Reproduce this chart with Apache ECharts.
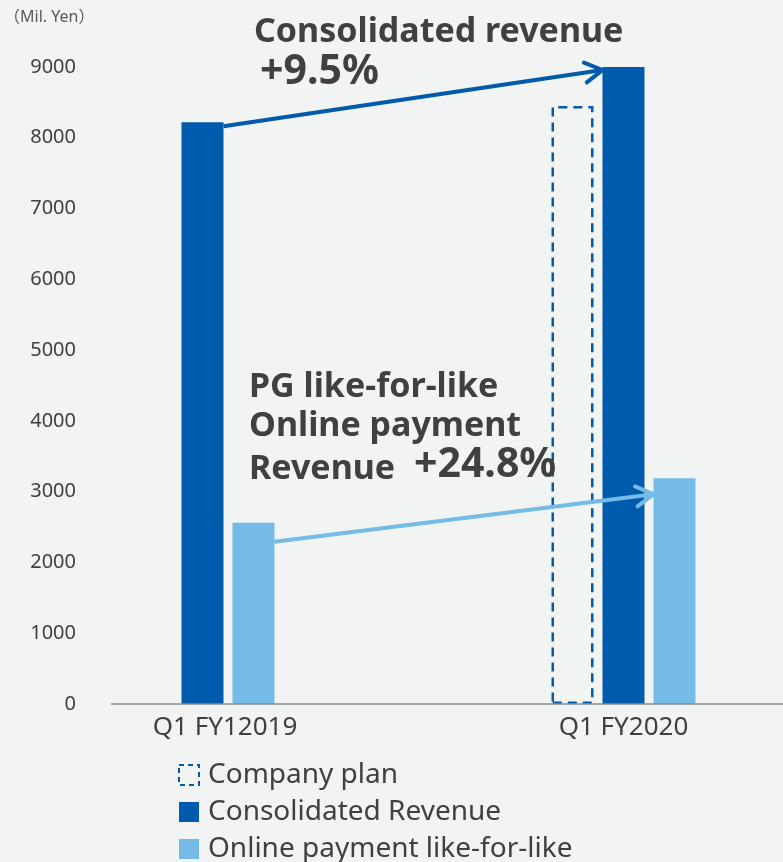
<!DOCTYPE html>
<html>
<head>
<meta charset="utf-8">
<script src="https://cdn.jsdelivr.net/npm/echarts@6/dist/echarts.min.js"></script>
<style>
   html, body { margin: 0; padding: 0; background: #f2f3f3; }
   #chart { width: 783px; height: 862px; }
</style>
</head>
<body>
<div id="chart"></div>
<script>
   // data
   var categories = ['Q1 FY12019', 'Q1 FY2020'];
   var planValues = [null, 8450];
   var revenueValues = [8220, 9000];
   var onlineValues = [2560, 3190];
   var seriesNames = ['Company plan', 'Consolidated Revenue', 'Online payment like-for-like'];
   var yMin = 0, yMax = 9000, yStep = 1000;

   var DARK = '#005bac', LIGHT = '#74bbe8', TEXT = '#404040';
   var FONT = '"Noto Sans", "Noto Sans CJK JP", sans-serif';
   var BAR_W = 42, BAR_GAP = 9;
   var gapPct = (BAR_GAP / BAR_W * 100).toFixed(1) + '%';

   var myChart = echarts.init(document.getElementById('chart'));

   var option = {
      backgroundColor: '#f2f3f3',
      animation: false,
      textStyle: { fontFamily: FONT },
      grid: { left: -8, width: 842, top: 67, bottom: 158, outerBoundsMode: 'none', containLabel: false },
      // 横向 + 窄宽度 => 每项一行
      legend: {
         orient: 'horizontal',
         left: 178,
         top: 761,
         width: 40,
         padding: 0,
         itemWidth: 20,
         itemHeight: 20,
         itemGap: 9,
         icon: 'rect',
         data: [
            { name: seriesNames[0], itemStyle: { color: 'rgba(0,0,0,0)', borderColor: DARK, borderWidth: 2, borderType: [5, 4] } },
            { name: seriesNames[1] },
            { name: seriesNames[2] }
         ],
         textStyle: { fontSize: 28, color: TEXT, fontFamily: FONT, padding: [0, 0, 0, 4] }
      },
      xAxis: {
         type: 'category',
         data: [
            { value: categories[0], textStyle: { padding: [0, 0, 0, 45] } },
            { value: categories[1] }
         ],
         axisLine: { show: false },
         axisTick: { show: false },
         axisLabel: { fontSize: 26, color: TEXT, margin: 11, fontFamily: FONT }
      },
      yAxis: {
         type: 'value',
         min: yMin,
         max: yMax,
         interval: yStep,
         offset: -84,
         axisLine: { show: false },
         axisTick: { show: false },
         splitLine: { show: false },
         axisLabel: {
            fontSize: 20, color: TEXT, margin: 0, fontFamily: FONT,
            formatter: function(v){ return String(v); }
         }
      },
      series: [
         {
            name: seriesNames[0],
            type: 'bar',
            barWidth: BAR_W,
            barGap: gapPct,
            itemStyle: { color: 'rgba(0,0,0,0)', borderColor: DARK, borderWidth: 2.5, borderType: [9, 6] },
            data: planValues
         },
         {
            name: seriesNames[1],
            type: 'bar',
            barWidth: BAR_W,
            barGap: gapPct,
            itemStyle: { color: DARK },
            data: revenueValues
         },
         {
            name: seriesNames[2],
            type: 'bar',
            barWidth: BAR_W,
            barGap: gapPct,
            itemStyle: { color: LIGHT },
            data: onlineValues
         }
      ]
   };
   myChart.setOption(option);

   // 箭头 + 注释
   function px(catIdx, value){
      return myChart.convertToPixel({ xAxisIndex: 0, yAxisIndex: 0 }, [catIdx, value]);
   }
   function arrow(from, to, color){
      var dx = from[0] - to[0], dy = from[1] - to[1];
      var ang = Math.atan2(dy, dx), len = 20, spread = Math.PI / 6;
      var a1 = [to[0] + len * Math.cos(ang + spread), to[1] + len * Math.sin(ang + spread)];
      var a2 = [to[0] + len * Math.cos(ang - spread), to[1] + len * Math.sin(ang - spread)];
      return [
         { type: 'polyline', z: 10, shape: { points: [from, to] }, style: { stroke: color, lineWidth: 4, fill: null } },
         { type: 'polyline', z: 10, shape: { points: [a1, to, a2] }, style: { stroke: color, lineWidth: 4, fill: null, lineCap: 'round', lineJoin: 'miter' } }
      ];
   }
   function label(text, x, y, size, bold){
      return {
         type: 'text', z: 11, x: x, y: y,
         style: { text: text, fill: TEXT, fontSize: size, fontWeight: bold ? 'bold' : 'normal', fontFamily: FONT, verticalAlign: 'middle' }
      };
   }

   var half = BAR_W / 2, step = BAR_W + BAR_GAP;
   var d0 = px(0, revenueValues[0]), d1 = px(1, revenueValues[1]);
   var l0 = px(0, onlineValues[0]), l1 = px(1, onlineValues[1]);
   var zero = px(0, 0);

   var graphics = []
      .concat(arrow([d0[0] + half, d0[1] + 4], [d1[0] - half, d1[1] + 3], DARK))
      .concat(arrow([l0[0] + step + half, l0[1] + 19], [l1[0] + step - half, l1[1] + 16], LIGHT));
   graphics.push({ type: 'line', z: 5, shape: { x1: 111, y1: zero[1], x2: 783, y2: zero[1] }, style: { stroke: '#8a8a8a', lineWidth: 1.5 } });
   graphics.push({
      type: 'text', x: 4, y: 17,
      style: { text: '（Mil. Yen）', fill: '#595959', fontSize: 16, fontFamily: FONT, verticalAlign: 'middle' }
   });
   graphics.push(label('Consolidated revenue', 254, 32, 34, true));
   graphics.push(label('+9.5%', 260, 72, 41, true));
   graphics.push(label('PG like-for-like', 249, 387, 34, true));
   graphics.push(label('Online payment', 249, 426, 34, true));
   graphics.push(label('Revenue', 249, 469, 34, true));
   graphics.push(label('+24.8%', 414, 465, 41, true));

   myChart.setOption({ graphic: graphics });
</script>
</body>
</html>
